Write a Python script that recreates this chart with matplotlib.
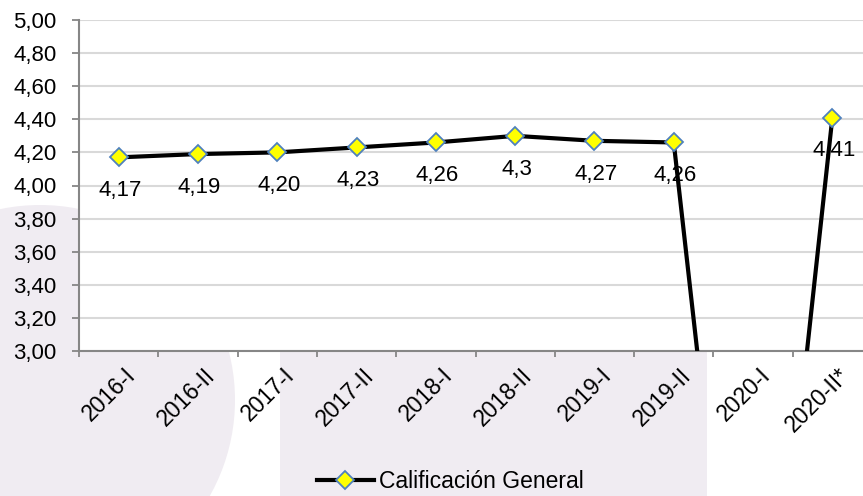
import numpy as np
import matplotlib.pyplot as plt
from matplotlib.patches import Circle, Rectangle

plt.rcParams['font.family'] = ['Liberation Sans', 'DejaVu Sans']

# datos
periodos = ['2016-I', '2016-II', '2017-I', '2017-II', '2018-I',
            '2018-II', '2019-I', '2019-II', '2020-I', '2020-II*']
calificacion = [4.17, 4.19, 4.20, 4.23, 4.26, 4.30, 4.27, 4.26, 0.0, 4.41]
etiquetas = ['4,17', '4,19', '4,20', '4,23', '4,26', '4,3', '4,27', '4,26', '', '4,41']
y_ticks = [3.0, 3.2, 3.4, 3.6, 3.8, 4.0, 4.2, 4.4, 4.6, 4.8, 5.0]

W, H = 863, 496
fig = plt.figure(figsize=(W / 100, H / 100), dpi=100)
fig.patch.set_facecolor('white')

# fondo decorativo
bg = '#F0ECF2'
bg_ax = fig.add_axes([0, 0, 1, 1], zorder=0)
bg_ax.set_xlim(0, W)
bg_ax.set_ylim(H, 0)
bg_ax.axis('off')
bg_ax.add_patch(Circle((40, 400), 195, color=bg, lw=0))
bg_ax.add_patch(Rectangle((280, 300), 427, 200, color=bg, lw=0))

ax = fig.add_axes([79 / W, (H - 351) / H, (872 - 79) / W, 331 / H], zorder=1)
ax.set_facecolor('white')

x = np.arange(len(periodos))
ax.plot(x, calificacion, color='black', lw=3, marker='D', markersize=9,
        markerfacecolor='#FFFF00', markeredgecolor='#4F81BD', markeredgewidth=1.3,
        label='Calificación General', zorder=3)

for xi, yi, txt in zip(x, calificacion, etiquetas):
    if txt:
        ax.annotate(txt, (xi, yi), xytext=(1, -24), textcoords='offset points',
                    ha='center', va='center', fontsize=16, zorder=4)

ax.set_xlim(-0.5, len(periodos) - 0.5)
ax.set_ylim(3.0, 5.0)
ax.set_yticks(y_ticks)
ax.set_yticklabels([f'{v:.2f}'.replace('.', ',') for v in y_ticks], fontsize=16)
ax.yaxis.grid(True, color='#D9D9D9', lw=1.5)
ax.set_axisbelow(True)

ax.set_xticks(np.arange(len(periodos) + 1) - 0.5)
ax.set_xticklabels([])
ax.set_xticks(x + 0.07, minor=True)
ax.set_xticklabels(periodos, minor=True, rotation=45, ha='right',
                   rotation_mode='anchor', fontsize=16.5)
ax.tick_params(axis='x', which='minor', length=0, pad=9)
ax.tick_params(axis='x', which='major', length=4, color='#868686', width=1.3)
ax.tick_params(axis='y', length=5, color='#868686', width=1.3, pad=11)

for s in ['top', 'right']:
    ax.spines[s].set_visible(False)
for s in ['left', 'bottom']:
    ax.spines[s].set_color('#868686')
    ax.spines[s].set_linewidth(1.5)

ax.legend(loc='center', bbox_to_anchor=(450 / W, (H - 482) / H), bbox_transform=fig.transFigure,
          frameon=False, fontsize=16.5, handlelength=2.5, handletextpad=0.2)

fig.savefig('out.png', dpi=100)
